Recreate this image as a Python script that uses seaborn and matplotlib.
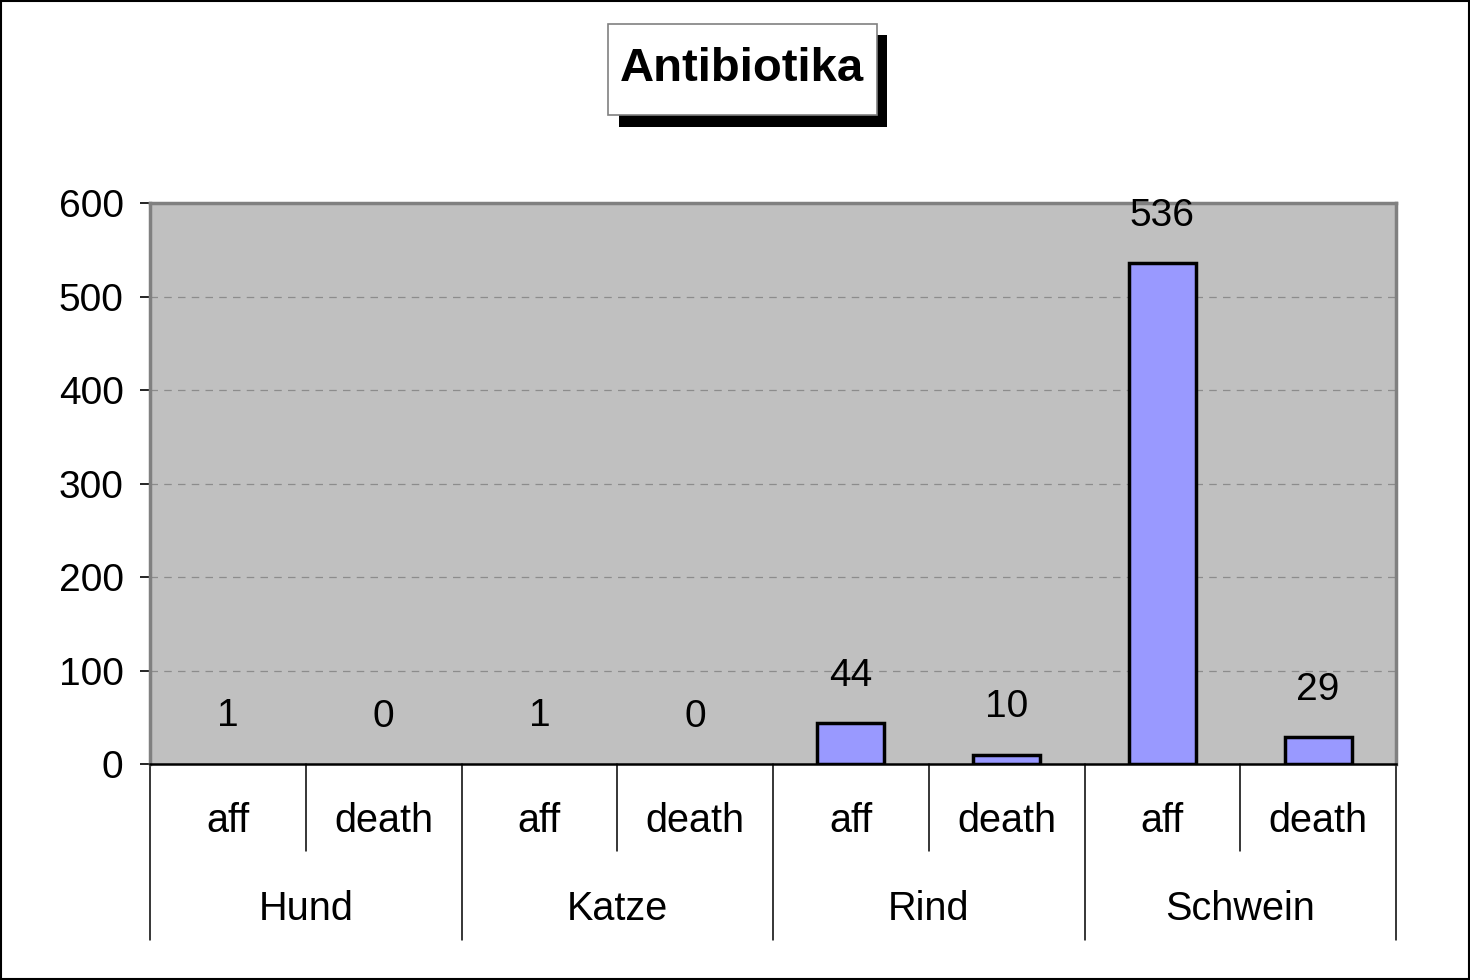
import matplotlib
matplotlib.use("Agg")
import matplotlib.pyplot as plt
import matplotlib.transforms as mtransforms
from matplotlib.patches import Rectangle
import pandas as pd
import seaborn as sns

# chart data
groups = ["Hund", "Katze", "Rind", "Schwein"]
subs = ["aff", "death"]
values = [1, 0, 1, 0, 44, 10, 536, 29]
yticks = [0, 100, 200, 300, 400, 500, 600]

slots = [f"{g}|{s}" for g in groups for s in subs]
df = pd.DataFrame({"slot": slots, "value": values})

sns.set_theme(style="white")
plt.rcParams["font.family"] = ["Liberation Sans", "DejaVu Sans"]
plt.rcParams.update({"text.color": "black", "xtick.color": "black", "ytick.color": "black"})

fig = plt.figure(figsize=(14.7, 9.8), dpi=100)
ax = fig.add_axes([150 / 1470, 1 - 764 / 980, (1396 - 150) / 1470, (764 - 203) / 980])

sns.barplot(
    data=df,
    x="slot",
    y="value",
    order=slots,
    color="#9999FF",
    saturation=1,
    width=0.43,
    edgecolor="black",
    linewidth=2.5,
    ax=ax,
)
# bars that are too small to show in the original
for p in ax.patches:
    if p.get_height() < 2:
        p.set_visible(False)

ax.set_facecolor("#C0C0C0")
ax.set_ylim(0, 600)
ax.set_xlim(-0.5, len(slots) - 0.5)
ax.set_yticks(yticks)
ax.set_yticklabels([str(t) for t in yticks], fontsize=28)
ax.tick_params(axis="y", length=7, width=1.2, color="black", pad=12, left=True)
ax.tick_params(axis="x", length=0, labelbottom=False)
ax.set_xlabel("")
ax.set_ylabel("")
for y in yticks[1:-1]:
    ax.axhline(y, color="#8C8C8C", lw=0.9, ls=(0, (6, 5)), zorder=0.5)
ax.set_axisbelow(True)

for side in ["top", "right", "left"]:
    ax.spines[side].set_color("#808080")
    ax.spines[side].set_linewidth(2.5)
ax.spines["bottom"].set_color("black")
ax.spines["bottom"].set_linewidth(1.8)

# value labels above bars
for i, v in enumerate(values):
    ax.annotate(str(v), (i, v), xytext=(0, 34), textcoords="offset points",
                ha="center", va="center", fontsize=28, annotation_clip=False)

# two-level category axis
trans = mtransforms.blended_transform_factory(ax.transData, ax.transAxes)
px = 1 / (764 - 203)  # one pixel in axes units (vertical)
for i, s in enumerate(slots):
    ax.text(i, -(821 - 764) * px, s.split("|")[1], transform=trans,
            ha="center", va="center", fontsize=28.5)
for gi, g in enumerate(groups):
    ax.text(gi * 2 + 0.5, -(909 - 764) * px, g, transform=trans,
            ha="center", va="center", fontsize=28.5)
for k in range(len(slots) + 1):
    x = k - 0.5
    low = -(940 - 764) * px if k % 2 == 0 else -(851 - 764) * px
    ax.plot([x, x], [0, low], transform=trans, color="black", lw=1.1,
            clip_on=False)

# title box with shadow
ftr = fig.transFigure
fig.add_artist(Rectangle((619 / 1470, 1 - 127 / 980), 268 / 1470, 92 / 980,
                         transform=ftr, facecolor="black", edgecolor="none"))
fig.add_artist(Rectangle((608 / 1470, 1 - 115 / 980), 269 / 1470, 91 / 980,
                         transform=ftr, facecolor="white", edgecolor="#808080", lw=1.2))
fig.text(742 / 1470, 1 - 69 / 980, "Antibiotika", ha="center", va="center",
         fontsize=34, fontweight="bold")

# figure border
fig.add_artist(Rectangle((0.001, 0.001), 0.998, 0.998, transform=ftr,
                         facecolor="none", edgecolor="black", lw=1.5))

fig.savefig("out.png", dpi=100)
